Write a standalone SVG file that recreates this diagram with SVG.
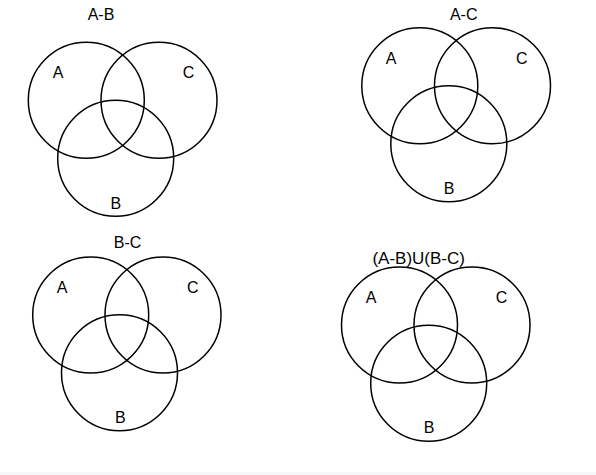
<svg xmlns="http://www.w3.org/2000/svg" width="596" height="475" viewBox="0 0 596 475">
<style>
.c{fill:none;stroke:#000;stroke-width:1.5}
.t{font-family:"Liberation Sans",Arial,sans-serif;font-size:16px;fill:#000;text-anchor:middle}
.h{font-size:17px}
</style>
<rect width="596" height="475" fill="#fff"/>
<rect x="0" y="472" width="596" height="3" fill="#f6f7f9"/>
<g id="d1">
<text class="t" x="101" y="20">A-B</text>
<circle class="c" cx="86.3" cy="100.3" r="58"/>
<circle class="c" cx="159" cy="100.3" r="58"/>
<circle class="c" cx="115.7" cy="158.2" r="58"/>
<text class="t" x="58" y="77.7">A</text>
<text class="t" x="188.5" y="77.7">C</text>
<text class="t" x="115.8" y="209">B</text>
</g>
<g id="d2">
<text class="t" x="463.7" y="20">A-C</text>
<circle class="c" cx="419.8" cy="85.7" r="58"/>
<circle class="c" cx="492.5" cy="85.7" r="58"/>
<circle class="c" cx="448.8" cy="143.7" r="58"/>
<text class="t" x="391" y="64.3">A</text>
<text class="t" x="521.7" y="64.3">C</text>
<text class="t" x="449" y="194">B</text>
</g>
<g id="d3">
<text class="t" x="127.5" y="247.7">B-C</text>
<circle class="c" cx="90.7" cy="315" r="58"/>
<circle class="c" cx="163" cy="315" r="58"/>
<circle class="c" cx="119.5" cy="372.8" r="58"/>
<text class="t" x="62" y="293">A</text>
<text class="t" x="192.7" y="293">C</text>
<text class="t" x="120.3" y="422.7">B</text>
</g>
<g id="d4">
<text class="t h" x="418.7" y="264">(A-B)U(B-C)</text>
<circle class="c" cx="399.5" cy="325" r="58"/>
<circle class="c" cx="472" cy="325" r="58"/>
<circle class="c" cx="428.7" cy="383.2" r="58"/>
<text class="t" x="371.2" y="302.7">A</text>
<text class="t" x="501.5" y="302.7">C</text>
<text class="t" x="429" y="433.3">B</text>
</g>
<g id="connectors"/>
</svg>
